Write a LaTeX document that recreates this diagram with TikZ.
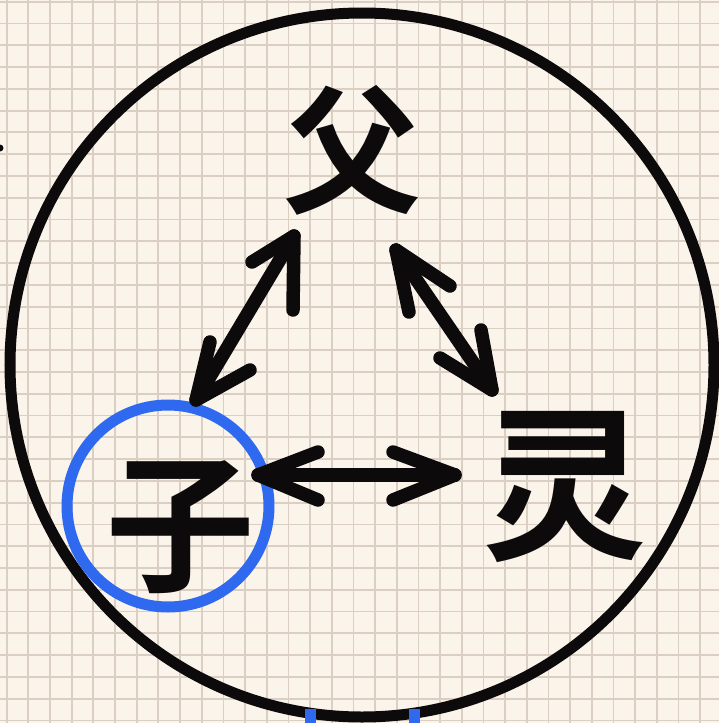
\documentclass[tikz,border=0pt]{standalone}
\usepackage{fontspec}
\newfontfamily\cjk{Noto Sans CJK SC}[BoldFont={Noto Sans CJK SC Bold}]
\definecolor{paper}{RGB}{250,244,234}
\definecolor{gridc}{RGB}{218,207,194}
\definecolor{pen}{RGB}{12,10,10}
\definecolor{penblue}{RGB}{47,105,240}
\tikzset{
  ink/.style={draw=pen,line width=13.5pt,line cap=round,line join=round},
  bigring/.style={draw=pen,line width=11pt},
  bluering/.style={draw=penblue,line width=11pt},
  hanzi/.style={text=pen,inner sep=0pt,font=\cjk\bfseries}
}
\begin{document}
\begin{tikzpicture}[x=1pt,y=-1pt]
\useasboundingbox (0,0) rectangle (719,723);
\fill[paper] (0,0) rectangle (719,723);
% grid
\foreach \i in {0,...,33} {
  \draw[gridc,line width=1.8pt] ({6.7+21.67*\i},0) -- ({6.7+21.67*\i},723);
}
\foreach \j in {0,...,33} {
  \draw[gridc,line width=1.8pt] (0,{1.7+21.78*\j}) -- (719,{1.7+21.78*\j});
}
% small mark at left edge
\fill[pen] (0,148) circle (3.5);
% big circle
\node[bigring,circle,minimum size=704pt,inner sep=0pt] (ring) at (362,365) {};
% characters
\node[hanzi,font=\cjk\bfseries\fontsize{138}{138}\selectfont] (fu) at (352,150) {父};
\node[hanzi,font=\cjk\bfseries\fontsize{150}{150}\selectfont] (zi) at (180,527) {子};
\node[hanzi,font=\cjk\bfseries\fontsize{165}{165}\selectfont] (ling) at (565,487) {灵};
% blue circle around zi
\node[bluering,circle,minimum size=202pt,inner sep=0pt] (zring) at (168,506) {};
% blue marks at bottom
\coordinate (m1a) at (310,709); \coordinate (m1b) at (310,725);
\coordinate (m2a) at (414,709); \coordinate (m2b) at (414,725);
\draw[penblue,line width=11pt] (m1a) -- (m1b);
\draw[penblue,line width=11pt] (m2a) -- (m2b);
% arrow father - son
\coordinate (fz1) at (294,236); \coordinate (fz2) at (196,400);
\draw[ink] (fz1) -- (fz2);
\draw[ink] (252,262) -- (fz1) -- (293,310);
\draw[ink] (210,342) -- (fz2) -- (250,370);
% arrow father - spirit
\coordinate (fl1) at (396,250); \coordinate (fl2) at (492,390);
\draw[ink] (fl1) -- (fl2);
\draw[ink] (450,286) -- (fl1) -- (409,312);
\draw[ink] (481,330) -- (fl2) -- (440,358);
% arrow son - spirit
\coordinate (zl1) at (258,475); \coordinate (zl2) at (455,475);
\draw[ink] (zl1) -- (zl2);
\draw[ink] (318,452) -- (zl1) -- (318,500);
\draw[ink] (393,452) -- (zl2) -- (393,500);
\end{tikzpicture}
\end{document}
